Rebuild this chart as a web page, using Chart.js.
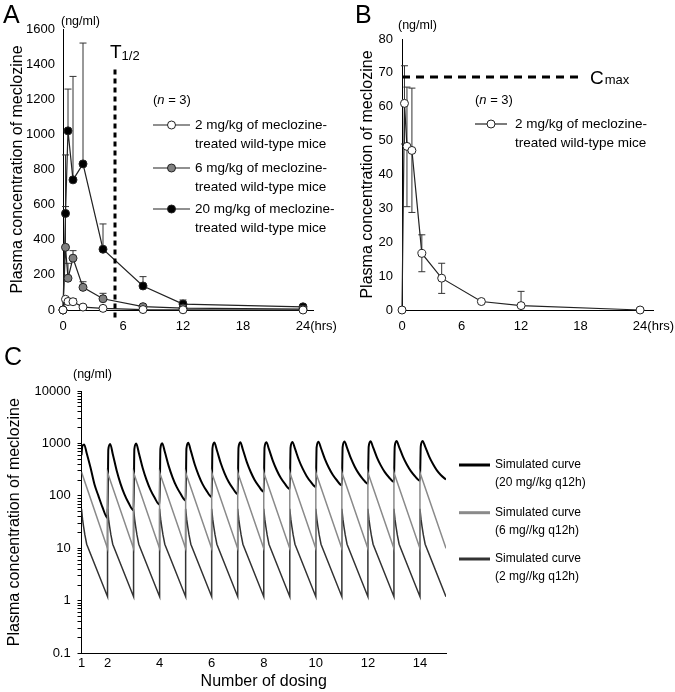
<!DOCTYPE html>
<html>
<head>
<meta charset="utf-8">
<script src="https://cdn.jsdelivr.net/npm/chart.js@4.4.1/dist/chart.umd.min.js"></script>
<style>
  html, body { margin: 0; padding: 0; background: #fff; }
  #wrap { position: relative; width: 675px; height: 692px; overflow: hidden; }
  canvas { position: absolute; }
</style>
</head>
<body>
<div id="wrap">
  <canvas id="chartA" width="340" height="340" style="left:0;top:0"></canvas>
  <canvas id="chartB" width="335" height="340" style="left:340px;top:0"></canvas>
  <canvas id="chartC" width="675" height="357" style="left:0;top:335px"></canvas>
</div>
<script>
const FONT = '"Liberation Sans", Arial, Helvetica, sans-serif';
Chart.defaults.font.family = FONT;
Chart.defaults.color = '#000';

// A / B: single dose, plasma meclozine (ng/ml) vs time (hrs)
const hours = [0, 0.25, 0.5, 1, 2, 4, 8, 12, 24];
const conc2mg = [0, 61, 48.3, 47.1, 16.7, 9.4, 2.5, 1.3, 0];
const conc6mg = [0, 357, 181, 295, 129, 64, 19, 11, 5];
const conc20mg = [0, 550, 1020, 741, 832, 346, 137, 34, 18];
const err2mgTop = [null, 72.1, 65.8, 65.5, 22.2, 13.8, null, 5.5, null];
const err2mgBottom = [null, 49, 30.5, 28.8, 11.3, 4.9, null, null, null];
const err6mgTop = [null, 589, 266, 338, 161, 95, 25, null, null];
const err20mgTop = [null, 883, 1258, 1330, 1520, 490, 190, 57, null];
const tHalf = 5.2;
const tHalfSpan = [1370, -45];
const cMax = 68.8;
const cMaxSpan = [0, 18.3];
const hourTicks = [0, 6, 12, 18, 24];
const ticksA = [0, 200, 400, 600, 800, 1000, 1200, 1400, 1600];
const ticksB = [0, 10, 20, 30, 40, 50, 60, 70, 80];

// C: simulated repeated dosing (q12h)
const doseTicks = [1, 2, 4, 6, 8, 10, 12, 14];
const logMajor = [0.1, 1, 10, 100, 1000, 10000];
const curve20Start = 600;
const curve20Offsets = [0.03, 0.1, 0.2, 0.35, 0.5, 0.65, 0.8, 1];
const curve20 = [
  [880, 960, 650, 340, 165, 100, 62, 38],
  [760, 980, 632, 305, 170, 107, 75, 53],
  [780, 1000, 668, 341, 200, 130, 94, 68],
  [790, 1010, 693, 370, 224, 150, 111, 82],
  [800, 1030, 721, 397, 247, 168, 126, 95],
  [810, 1040, 740, 420, 267, 186, 142, 108],
  [820, 1050, 758, 441, 286, 202, 156, 120],
  [830, 1060, 778, 465, 308, 221, 173, 135],
  [835, 1070, 794, 484, 327, 238, 187, 148],
  [840, 1080, 811, 502, 344, 253, 201, 160],
  [850, 1090, 824, 518, 357, 266, 212, 170],
  [860, 1100, 841, 538, 378, 284, 229, 185],
  [865, 1110, 855, 553, 391, 296, 240, 195],
  [875, 1120, 867, 568, 405, 306, 250, 205]
];
const curve6Peak = [285, 280, 280, 280, 280, 280, 280, 280, 280, 280, 280, 280, 280, 280];
const curve6Trough = [10, 10, 10, 10, 10, 10, 10, 10, 10, 10, 10, 10, 10, 10];
const curve2Offsets = [0, 0.04, 0.08, 0.13, 0.2, 1];
const curve2 = [
  [57, 36, 26, 18, 12, 1.2], [57, 36, 26, 18, 12, 1.2], [57, 36, 26, 18, 12, 1.2],
  [57, 36, 26, 18, 12, 1.2], [57, 36, 26, 18, 12, 1.2], [57, 36, 26, 18, 12, 1.2],
  [57, 36, 26, 18, 12, 1.2], [57, 36, 26, 18, 12, 1.2], [57, 36, 26, 18, 12, 1.2],
  [57, 36, 26, 18, 12, 1.2], [57, 36, 26, 18, 12, 1.2], [57, 36, 26, 18, 12, 1.2],
  [57, 36, 26, 18, 12, 1.2], [57, 36, 26, 18, 12, 1.2]
];

const toPoints = (xs, ys) => xs.map((x, i) => ({ x, y: ys[i] }));

function text(ctx, str, x, y, size, opts = {}) {
  ctx.font = (opts.italic ? 'italic ' : '') + size + 'px ' + FONT;
  ctx.textAlign = opts.align || 'left';
  ctx.textBaseline = opts.baseline || 'middle';
  ctx.fillStyle = '#000';
  ctx.fillText(str, x, y);
  return ctx.measureText(str).width;
}

function nLabel(ctx, x, y) {
  x += text(ctx, '(', x, y, 13);
  x += text(ctx, 'n', x, y, 13, { italic: true });
  text(ctx, ' = 3)', x, y, 13);
}

function markerEntry(ctx, x1, x2, y, fill, lines, textX) {
  ctx.save();
  ctx.strokeStyle = '#222';
  ctx.lineWidth = 1.2;
  ctx.beginPath();
  ctx.moveTo(x1, y);
  ctx.lineTo(x2, y);
  ctx.stroke();
  ctx.beginPath();
  ctx.arc((x1 + x2) / 2, y, 4, 0, Math.PI * 2);
  ctx.fillStyle = fill;
  ctx.fill();
  ctx.lineWidth = 1;
  ctx.stroke();
  ctx.restore();
  lines.forEach((l, i) => text(ctx, l, textX, y + i * 19, 13.5));
}

function hrsLabel(chart) {
  const ctx = chart.ctx;
  const x = chart.scales.x;
  ctx.font = '13px ' + FONT;
  const w = ctx.measureText('24').width;
  text(ctx, '(hrs)', x.getPixelForValue(24) + w / 2, chart.chartArea.bottom + 9 + 7.8, 13);
}

function errorBars(sets) {
  return {
    id: 'errorBars',
    beforeDatasetsDraw(chart) {
      const { ctx, scales: { x, y } } = chart;
      ctx.save();
      ctx.strokeStyle = '#333';
      ctx.lineWidth = 1;
      sets.forEach(({ values, ends }) => {
        hours.forEach((h, i) => {
          const px = x.getPixelForValue(h);
          const py = y.getPixelForValue(values[i]);
          ends.forEach(end => {
            if (end[i] == null) return;
            const pe = y.getPixelForValue(end[i]);
            ctx.beginPath();
            ctx.moveTo(px, py);
            ctx.lineTo(px, pe);
            ctx.moveTo(px - 3.5, pe);
            ctx.lineTo(px + 3.5, pe);
            ctx.stroke();
          });
        });
      });
      ctx.restore();
    }
  };
}

function measured(values, fill) {
  return {
    data: toPoints(hours, values),
    borderColor: '#222',
    borderWidth: 1.2,
    pointRadius: 4,
    pointBorderWidth: 1,
    pointBorderColor: '#222',
    pointBackgroundColor: fill,
    tension: 0,
    clip: false
  };
}

function linearAxis(min, max, tickValues, fitSize, padding, isY) {
  return {
    type: 'linear',
    min, max,
    afterBuildTicks: s => { s.ticks = tickValues.map(v => ({ value: v })); },
    afterFit: s => { if (isY) s.width = fitSize; else s.height = fitSize; },
    grid: { display: false, drawTicks: false },
    border: { display: true, color: '#000', width: 1 },
    ticks: {
      font: { size: 13 }, color: '#000', padding, maxRotation: 0, autoSkip: false,
      callback: v => String(v)
    }
  };
}

const yTitle = (pad) => ({
  display: true,
  text: 'Plasma concentration of meclozine',
  font: { size: 16 },
  color: '#000',
  padding: { top: pad, bottom: 0 }
});

const base = {
  responsive: false,
  animation: false,
  devicePixelRatio: 1,
  events: [],
  plugins: { legend: { display: false }, tooltip: { enabled: false } }
};

// ---- A ----
const yA = linearAxis(0, 1600, ticksA, 63, 8, true);
yA.title = yTitle(7.6);
new Chart(document.getElementById('chartA'), {
  type: 'line',
  data: {
    datasets: [
      {
        data: [{ x: tHalf, y: tHalfSpan[0] }, { x: tHalf, y: tHalfSpan[1] }],
        borderColor: '#000', borderWidth: 3, borderDash: [5, 4],
        pointRadius: 0, clip: false
      },
      measured(conc2mg, '#fff'),
      measured(conc6mg, '#808080'),
      measured(conc20mg, '#000')
    ]
  },
  options: {
    ...base,
    layout: { padding: { left: 0, top: 29, right: 27, bottom: 0 } },
    scales: {
      x: linearAxis(0, 25, hourTicks, 30, 9, false),
      y: yA
    }
  },
  plugins: [
    errorBars([
      { values: conc2mg, ends: [err2mgTop] },
      { values: conc6mg, ends: [err6mgTop] },
      { values: conc20mg, ends: [err20mgTop] }
    ]),
    {
      id: 'notesA',
      afterDraw(chart) {
        const ctx = chart.ctx;
        text(ctx, 'A', 3, 23, 25, { baseline: 'alphabetic' });
        text(ctx, '(ng/ml)', 61, 22, 12.5);
        const w = text(ctx, 'T', 110, 58, 19, { baseline: 'alphabetic' });
        text(ctx, '1/2', 110 + w, 60, 13, { baseline: 'alphabetic' });
        nLabel(ctx, 153, 100);
        markerEntry(ctx, 153, 190, 125, '#fff', ['2 mg/kg of meclozine-', 'treated wild-type mice'], 195);
        markerEntry(ctx, 153, 190, 168, '#808080', ['6 mg/kg of meclozine-', 'treated wild-type mice'], 195);
        markerEntry(ctx, 153, 190, 209, '#000', ['20 mg/kg of meclozine-', 'treated wild-type mice'], 195);
        hrsLabel(chart);
      }
    }
  ]
});

// ---- B ----
const yB = linearAxis(0, 80, ticksB, 62, 9, true);
yB.title = yTitle(18.4);
new Chart(document.getElementById('chartB'), {
  type: 'line',
  data: {
    datasets: [
      {
        data: [{ x: cMaxSpan[0], y: cMax }, { x: cMaxSpan[1], y: cMax }],
        borderColor: '#000', borderWidth: 3, borderDash: [8, 6],
        pointRadius: 0, clip: false
      },
      measured(conc2mg, '#fff')
    ]
  },
  options: {
    ...base,
    layout: { padding: { left: 0, top: 39, right: 22, bottom: 0 } },
    scales: {
      x: linearAxis(0, 25.3, hourTicks, 30, 9, false),
      y: yB
    }
  },
  plugins: [
    errorBars([{ values: conc2mg, ends: [err2mgTop, err2mgBottom] }]),
    {
      id: 'notesB',
      afterDraw(chart) {
        const ctx = chart.ctx;
        text(ctx, 'B', 15, 23, 25, { baseline: 'alphabetic' });
        text(ctx, '(ng/ml)', 58, 26, 12.5);
        const w = text(ctx, 'C', 250, 84, 19, { baseline: 'alphabetic' });
        text(ctx, 'max', 250 + w + 1, 84, 13, { baseline: 'alphabetic' });
        nLabel(ctx, 135, 100);
        markerEntry(ctx, 135, 167, 124, '#fff', ['2 mg/kg of meclozine-', 'treated wild-type mice'], 175);
        hrsLabel(chart);
      }
    }
  ]
});

// ---- C ----
const pts20 = [{ x: 1, y: curve20Start }];
curve20.forEach((row, k) => row.forEach((v, j) => pts20.push({ x: 1 + k + curve20Offsets[j], y: v })));
const pts6 = [];
curve6Peak.forEach((p, k) => pts6.push({ x: 1 + k, y: p }, { x: 2 + k, y: curve6Trough[k] }));
const pts2 = [];
curve2.forEach((row, k) => row.forEach((v, j) => pts2.push({ x: 1 + k + curve2Offsets[j], y: v })));

const logTicks = [];
logMajor.forEach((m, i) => {
  logTicks.push(m);
  if (i < logMajor.length - 1) [2, 3, 4, 5, 6, 7, 8, 9].forEach(s => logTicks.push(m * s));
});

const xC = linearAxis(1, 15, doseTicks, 38.7, 2, false);
xC.title = { display: true, text: 'Number of dosing', font: { size: 16 }, color: '#000', padding: { top: 0, bottom: 0.4 } };

new Chart(document.getElementById('chartC'), {
  type: 'line',
  data: {
    datasets: [
      { data: pts6, borderColor: '#8a8a8a', borderWidth: 1.5, pointRadius: 0, tension: 0 },
      { data: pts2, borderColor: '#333', borderWidth: 1.5, pointRadius: 0, tension: 0 },
      { data: pts20, borderColor: '#000', borderWidth: 2, pointRadius: 0, cubicInterpolationMode: 'monotone' }
    ]
  },
  options: {
    ...base,
    layout: { padding: { left: 0, top: 56, right: 229, bottom: 0 } },
    scales: {
      x: xC,
      y: {
        type: 'logarithmic',
        min: 0.1, max: 10000,
        afterBuildTicks: s => { s.ticks = logTicks.map(v => ({ value: v })); },
        afterFit: s => { s.width = 81.5; },
        grid: { display: true, drawOnChartArea: false, drawTicks: true, tickLength: 4, color: '#000', lineWidth: 1 },
        border: { display: true, color: '#000', width: 1 },
        ticks: {
          font: { size: 13 }, color: '#000', padding: 6.8, autoSkip: false,
          callback: v => (logMajor.includes(v) ? String(v) : '')
        },
        title: yTitle(5.4)
      }
    }
  },
  plugins: [{
    id: 'notesC',
    afterDraw(chart) {
      const ctx = chart.ctx;
      text(ctx, 'C', 4, 30, 25, { baseline: 'alphabetic' });
      text(ctx, '(ng/ml)', 73, 40, 12.5);
      const entries = [
        { color: '#000', y: 130, label: '(20 mg//kg q12h)' },
        { color: '#8a8a8a', y: 177.7, label: '(6 mg//kg q12h)' },
        { color: '#333', y: 224, label: '(2 mg//kg q12h)' }
      ];
      entries.forEach(e => {
        ctx.save();
        ctx.strokeStyle = e.color;
        ctx.lineWidth = 3;
        ctx.beginPath();
        ctx.moveTo(459, e.y);
        ctx.lineTo(490, e.y);
        ctx.stroke();
        ctx.restore();
        text(ctx, 'Simulated curve', 495, e.y, 12);
        text(ctx, e.label, 495, e.y + 17.5, 12);
      });
    }
  }]
});
</script>
</body>
</html>
